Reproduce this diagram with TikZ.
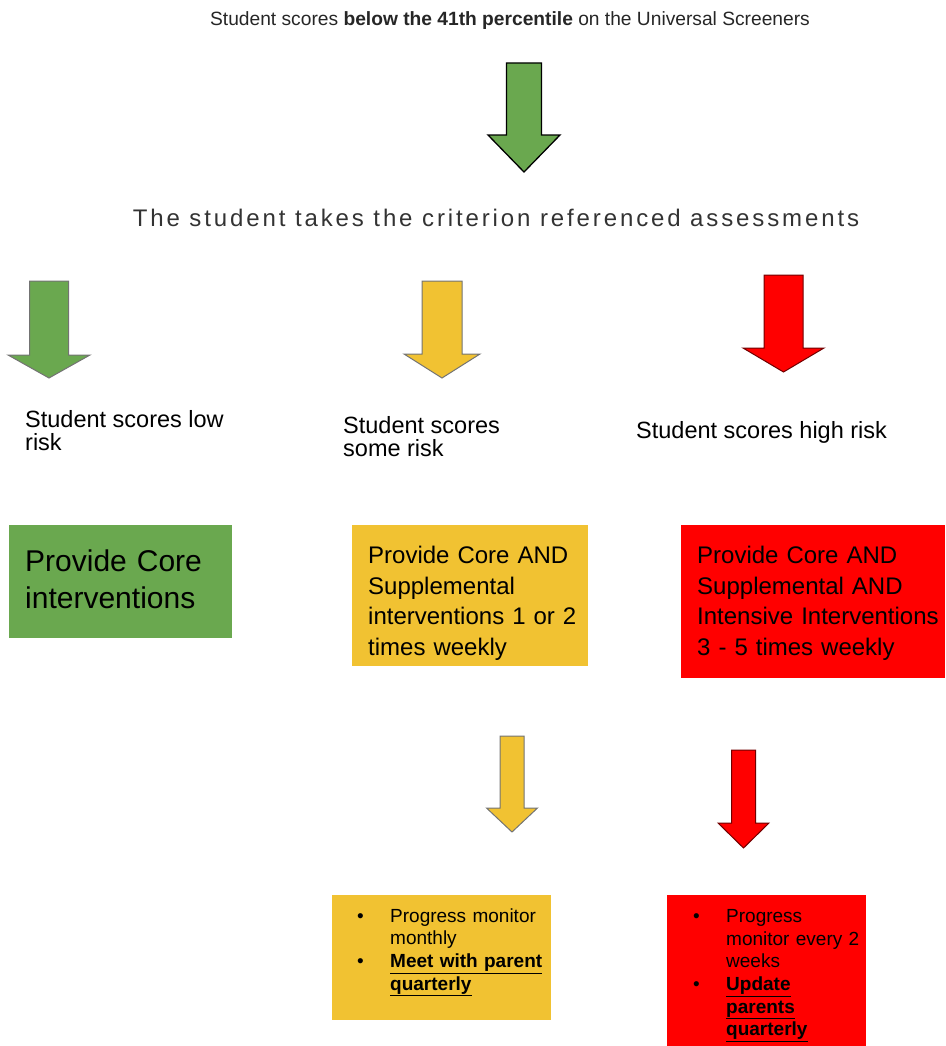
\documentclass[tikz,border=0pt]{standalone}
\usepackage{fontspec}
\setmainfont{Liberation Sans}
\newfontfamily\trackfont[LetterSpace=12]{Liberation Sans}
\usetikzlibrary{arrows}
\hyphenpenalty=10000

\definecolor{tiergreen}{HTML}{6AA84F}
\definecolor{tieryellow}{HTML}{F1C232}
\definecolor{tierred}{HTML}{FF0000}

% block arrow pointing down: style, centre x, half shaft, half head, top, neck, tip
\newcommand{\downblock}[7]{%
  \draw[#1] (#2-#3,#5) -- (#2+#3,#5) -- (#2+#3,#6) -- (#2+#4,#6) -- (#2,#7)
    -- (#2-#4,#6) -- (#2-#3,#6) -- cycle;}

\newcommand{\bulletitem}[1]{\par\hangindent=33pt\hangafter=1\noindent
  \makebox[33pt][l]{\textbullet}#1}

\tikzset{
  bigarrow/.style={fill=tiergreen, draw=black, line width=1.3pt, line join=miter},
  smallarrow/.style={draw=black!55, line width=1pt, line join=miter},
  steptext/.style={anchor=base west, align=left, inner sep=0pt,
    font=\fontsize{23.5}{23}\selectfont},
  tierbox/.style={anchor=north west, align=left, inner sep=0pt,
    font=\fontsize{24}{30.5}\selectfont},
  notebox/.style={anchor=north west, align=left, inner sep=0pt,
    font=\fontsize{19}{22.7}\selectfont}
}

\begin{document}
\begin{tikzpicture}[x=1pt,y=-1pt]
  \useasboundingbox (0,0) rectangle (945,1046);

  \node[anchor=base, inner sep=0pt, font=\fontsize{19.2}{22}\selectfont, text=black!85] (screen) at (510,26)
    {Student scores \textbf{below the 41th percentile} on the Universal Screeners};
  \downblock{bigarrow}{524}{17.5}{36}{63}{135}{172}
  \node[anchor=base, inner sep=0pt, font=\fontsize{24}{26}\selectfont\trackfont, text=black!80] (assess) at (496,226)
    {The student takes the criterion referenced assessments};

  \downblock{smallarrow, fill=tiergreen}{49}{19.5}{41}{281}{355}{378}
  \downblock{smallarrow, fill=tieryellow}{442}{20}{38}{281}{354}{378}
  \downblock{smallarrow, fill=tierred, draw=black!45!tierred!80!black}{783.5}{19.5}{40.5}{275}{348}{372}

  \node[steptext] (low) at (25,450) {Student scores low\\risk};
  \node[steptext] (some) at (343,456) {Student scores\\some risk};
  \node[steptext] (high) at (636,438) {Student scores high risk};

  \node[tierbox, fill=tiergreen, minimum width=223, minimum height=113, text width=223,
    font=\fontsize{30}{37}\selectfont] (core) at (9,525) {\leftskip=16pt Provide Core\\interventions\par\kern5pt};
  \node[tierbox, fill=tieryellow, minimum width=236, minimum height=141, text width=236] (supp) at (352,525)
    {\leftskip=16pt Provide Core AND\\Supplemental\\interventions 1 or 2\\times weekly\par\kern-15pt};
  \node[tierbox, fill=tierred, minimum width=264, minimum height=153, text width=264] (intens) at (681,525)
    {\leftskip=16pt Provide Core AND\\Supplemental AND\\Intensive Interventions\\3 - 5 times weekly\par\kern-3pt};

  \downblock{smallarrow, fill=tieryellow}{512}{12}{25.5}{736}{808}{832}
  \downblock{smallarrow, fill=tierred, draw=black!45!tierred!80!black}{743.5}{12}{25.5}{750}{823}{848}

  \node[notebox, fill=tieryellow, minimum width=219, minimum height=125, text width=219] (monthly) at (332,895)
    {\leftskip=25pt
     \bulletitem{Progress monitor\newline monthly}
     \bulletitem{\textbf{\underline{Meet with parent}}\newline \textbf{\underline{quarterly}}}
     \par\kern20pt};
  \node[notebox, fill=tierred, minimum width=199, minimum height=151, text width=199] (biweekly) at (667,895)
    {\leftskip=26pt
     \bulletitem{Progress\newline monitor every 2\newline weeks}
     \bulletitem{\textbf{\underline{Update}}\newline \textbf{\underline{parents}}\newline \textbf{\underline{quarterly}}}\par};
\end{tikzpicture}
\end{document}
